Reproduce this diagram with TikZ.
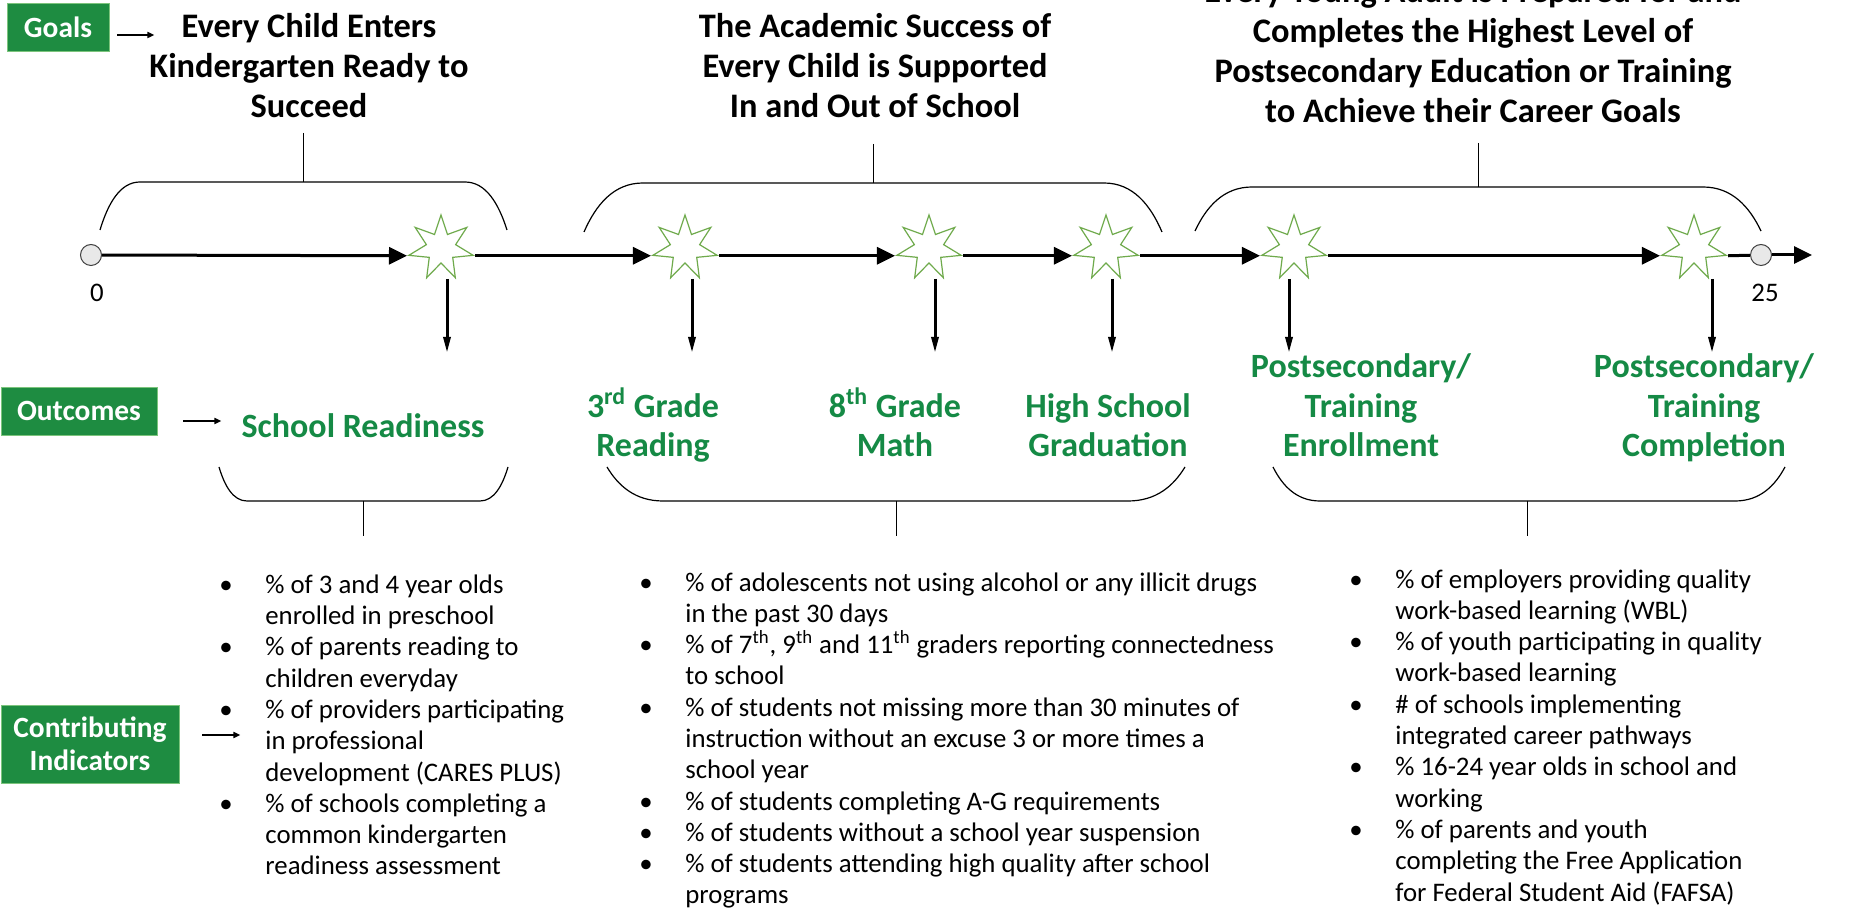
\documentclass[tikz,border=0pt]{standalone}
\usepackage{fontspec}
\setmainfont{Carlito}
\usetikzlibrary{shapes.geometric,arrows.meta}

\definecolor{boxgreen}{HTML}{1E8C41}
\definecolor{boxedge}{HTML}{7CC47C}
\definecolor{textgreen}{HTML}{158A45}
\definecolor{stargreen}{HTML}{6FAA4C}

\newcommand\bul{\makebox[23pt][l]{\textbullet}}
\newcommand\gap{\makebox[23pt]{}}

\tikzset{
  labelbox/.style={draw=boxedge, fill=boxgreen, text=white, align=center,
    inner sep=0pt, font=\fontsize{14.7}{16.5}\selectfont\bfseries},
  goal/.style={align=center, anchor=base, inner sep=0pt,
    font=\fontsize{17.2}{20}\selectfont\bfseries},
  outcome/.style={goal, text=textgreen,
    font=\fontsize{17}{19.75}\selectfont\bfseries},
  milestone/.style={star, star points=7, star point ratio=2.2, draw=stargreen,
    fill=white, line width=0.6pt, minimum size=33pt, inner sep=0pt},
  endpoint/.style={circle, draw=black!75, fill=black!9, line width=0.5pt,
    minimum size=10.5pt, inner sep=0pt},
  timeline/.style={line width=1.5pt, -{Triangle[length=9pt,width=8.5pt]}},
  drop/.style={line width=1.5pt, -{Triangle[length=8pt,width=3.5pt]}},
  pointer/.style={line width=1pt, -{Triangle[length=3.5pt,width=3pt]}},
  brace/.style={line width=0.6pt},
  indicators/.style={align=left, anchor=base west, inner sep=0pt,
    font=\fontsize{13.4}{15.65}\selectfont},
  axis/.style={font=\fontsize{13.4}{15}\selectfont}
}

\begin{document}
\begin{tikzpicture}[x=0.5pt, y=-0.5pt]

  \useasboundingbox (0, 0) rectangle (1865, 908);
  \fill[white] (0, 0) rectangle (1865, 908);
  \clip (0, 0) rectangle (1865, 908);

  % row labels
  \node[labelbox, minimum width=51pt, minimum height=24pt] (goals) at (58, 27) {Goals};
  \node[labelbox, minimum width=78pt, minimum height=24pt] (outcomes) at (79, 411) {Outcomes};
  \node[labelbox, minimum width=89pt, minimum height=39pt] (contrib) at (90, 744) {Contributing\\Indicators};
  \draw[pointer] ([xshift=4pt, yshift=-4pt]goals.east) -- ++(37, 0);
  \draw[pointer] ([xshift=13pt, yshift=-5pt]outcomes.east) -- ++(38, 0);
  \draw[pointer] ([xshift=11.5pt, yshift=4.5pt]contrib.east) -- ++(38, 0);

  % goals (base = last line)
  \node[goal] (kinder) at (309, 118) {Every Child Enters\\Kindergarten Ready to\\Succeed};
  \node[goal] (academic) at (875, 118) {The Academic Success of\\Every Child is Supported\\In and Out of School};
  \node[goal] (career) at (1473, 123) {Every Young Adult is Prepared for and\\Completes the Highest Level of\\Postsecondary Education or Training\\to Achieve their Career Goals};

  % timeline
  \node[endpoint] (t0) at (91, 255) {};
  \node[endpoint] (t25) at (1761, 255) {};
  \coordinate (tend) at (1812, 255);
  \node[axis] (age0) at (97, 293) {0};
  \node[axis] (age25) at (1765, 293) {25};

  \node[milestone] (s1) at (441, 248) {};
  \node[milestone] (s2) at (685, 248) {};
  \node[milestone] (s3) at (929, 248) {};
  \node[milestone] (s4) at (1106, 248) {};
  \node[milestone] (s5) at (1294, 248) {};
  \node[milestone] (s6) at (1694, 248) {};

  \draw[timeline] (t0) -- (s1.outer point 3);
  \foreach \a/\b in {s1/s2, s2/s3, s3/s4, s4/s5, s5/s6}
    \draw[timeline] (\a.outer point 6) -- (\b.outer point 3);
  \draw[line width=1.5pt] (s6.outer point 6) -- (t25);
  \draw[timeline] (t25) -- (tend);

  \foreach \s/\dx in {s1/6, s2/7, s3/6, s4/6, s5/-5, s6/18}
    \draw[drop] (\s.center) ++(\dx, 31) -- ++(0, 74);

  % outcomes
  \node[outcome] (ready) at (363, 438) {School Readiness};
  \node[outcome] (reading) at (653, 457) {3\textsuperscript{rd} Grade\\Reading};
  \node[outcome] (math) at (895, 457) {8\textsuperscript{th} Grade\\Math};
  \node[outcome] (grad) at (1108, 457) {High School\\Graduation};
  \node[outcome] (enroll) at (1361, 457) {Postsecondary/\\Training\\Enrollment};
  \node[outcome] (complete) at (1704, 457) {Postsecondary/\\Training\\Completion};

  % braces
  \foreach \xa/\xb/\xc/\xd/\yc/\ye in {100/140/465/507/182/230, 584/643/1104/1162/183/232,
      1195/1252/1703/1761/187/231, 219/247/480/508/501/467,
      607/663/1128/1185/501/467, 1273/1320/1735/1785/501/467}
    \draw[brace] (\xa, \ye) .. controls (\xa+0.2*\xb-0.2*\xa, \ye+0.55*\yc-0.55*\ye) and (0.5*\xa+0.5*\xb, \yc) .. (\xb, \yc)
      -- (\xc, \yc) .. controls (0.5*\xc+0.5*\xd, \yc) and (\xd-0.2*\xd+0.2*\xc, \ye+0.55*\yc-0.55*\ye) .. (\xd, \ye);
  \foreach \x/\ya/\yb in {303/133/182, 873/144/183, 1478/143/187, 363/501/536, 896/501/536, 1527/501/536}
    \draw[line width=0.5pt] (\x, \ya) -- (\x, \yb);

  % indicators (base = last line)
  \node[indicators] (early) at (219, 875) {\bul\% of 3 and 4 year olds\\
    \gap enrolled in preschool\\
    \bul\% of parents reading to\\
    \gap children everyday\\
    \bul\% of providers participating\\
    \gap in professional\\
    \gap development (CARES PLUS)\\
    \bul\% of schools completing a\\
    \gap common kindergarten\\
    \gap readiness assessment};
  \node[indicators] (school) at (639, 904) {\bul\% of adolescents not using alcohol or any illicit drugs\\
    \gap in the past 30 days\\
    \bul\% of 7\textsuperscript{th}, 9\textsuperscript{th} and 11\textsuperscript{th} graders reporting connectedness\\
    \gap to school\\
    \bul\% of students not missing more than 30 minutes of\\
    \gap instruction without an excuse 3 or more times a\\
    \gap school year\\
    \bul\% of students completing A-G requirements\\
    \bul\% of students without a school year suspension\\
    \bul\% of students attending high quality after school\\
    \gap programs};
  \node[indicators] (work) at (1349, 901) {\bul\% of employers providing quality\\
    \gap work-based learning (WBL)\\
    \bul\% of youth participating in quality\\
    \gap work-based learning\\
    \bul\# of schools implementing\\
    \gap integrated career pathways\\
    \bul\% 16-24 year olds in school and\\
    \gap working\\
    \bul\% of parents and youth\\
    \gap completing the Free Application\\
    \gap for Federal Student Aid (FAFSA)};

\end{tikzpicture}
\end{document}
